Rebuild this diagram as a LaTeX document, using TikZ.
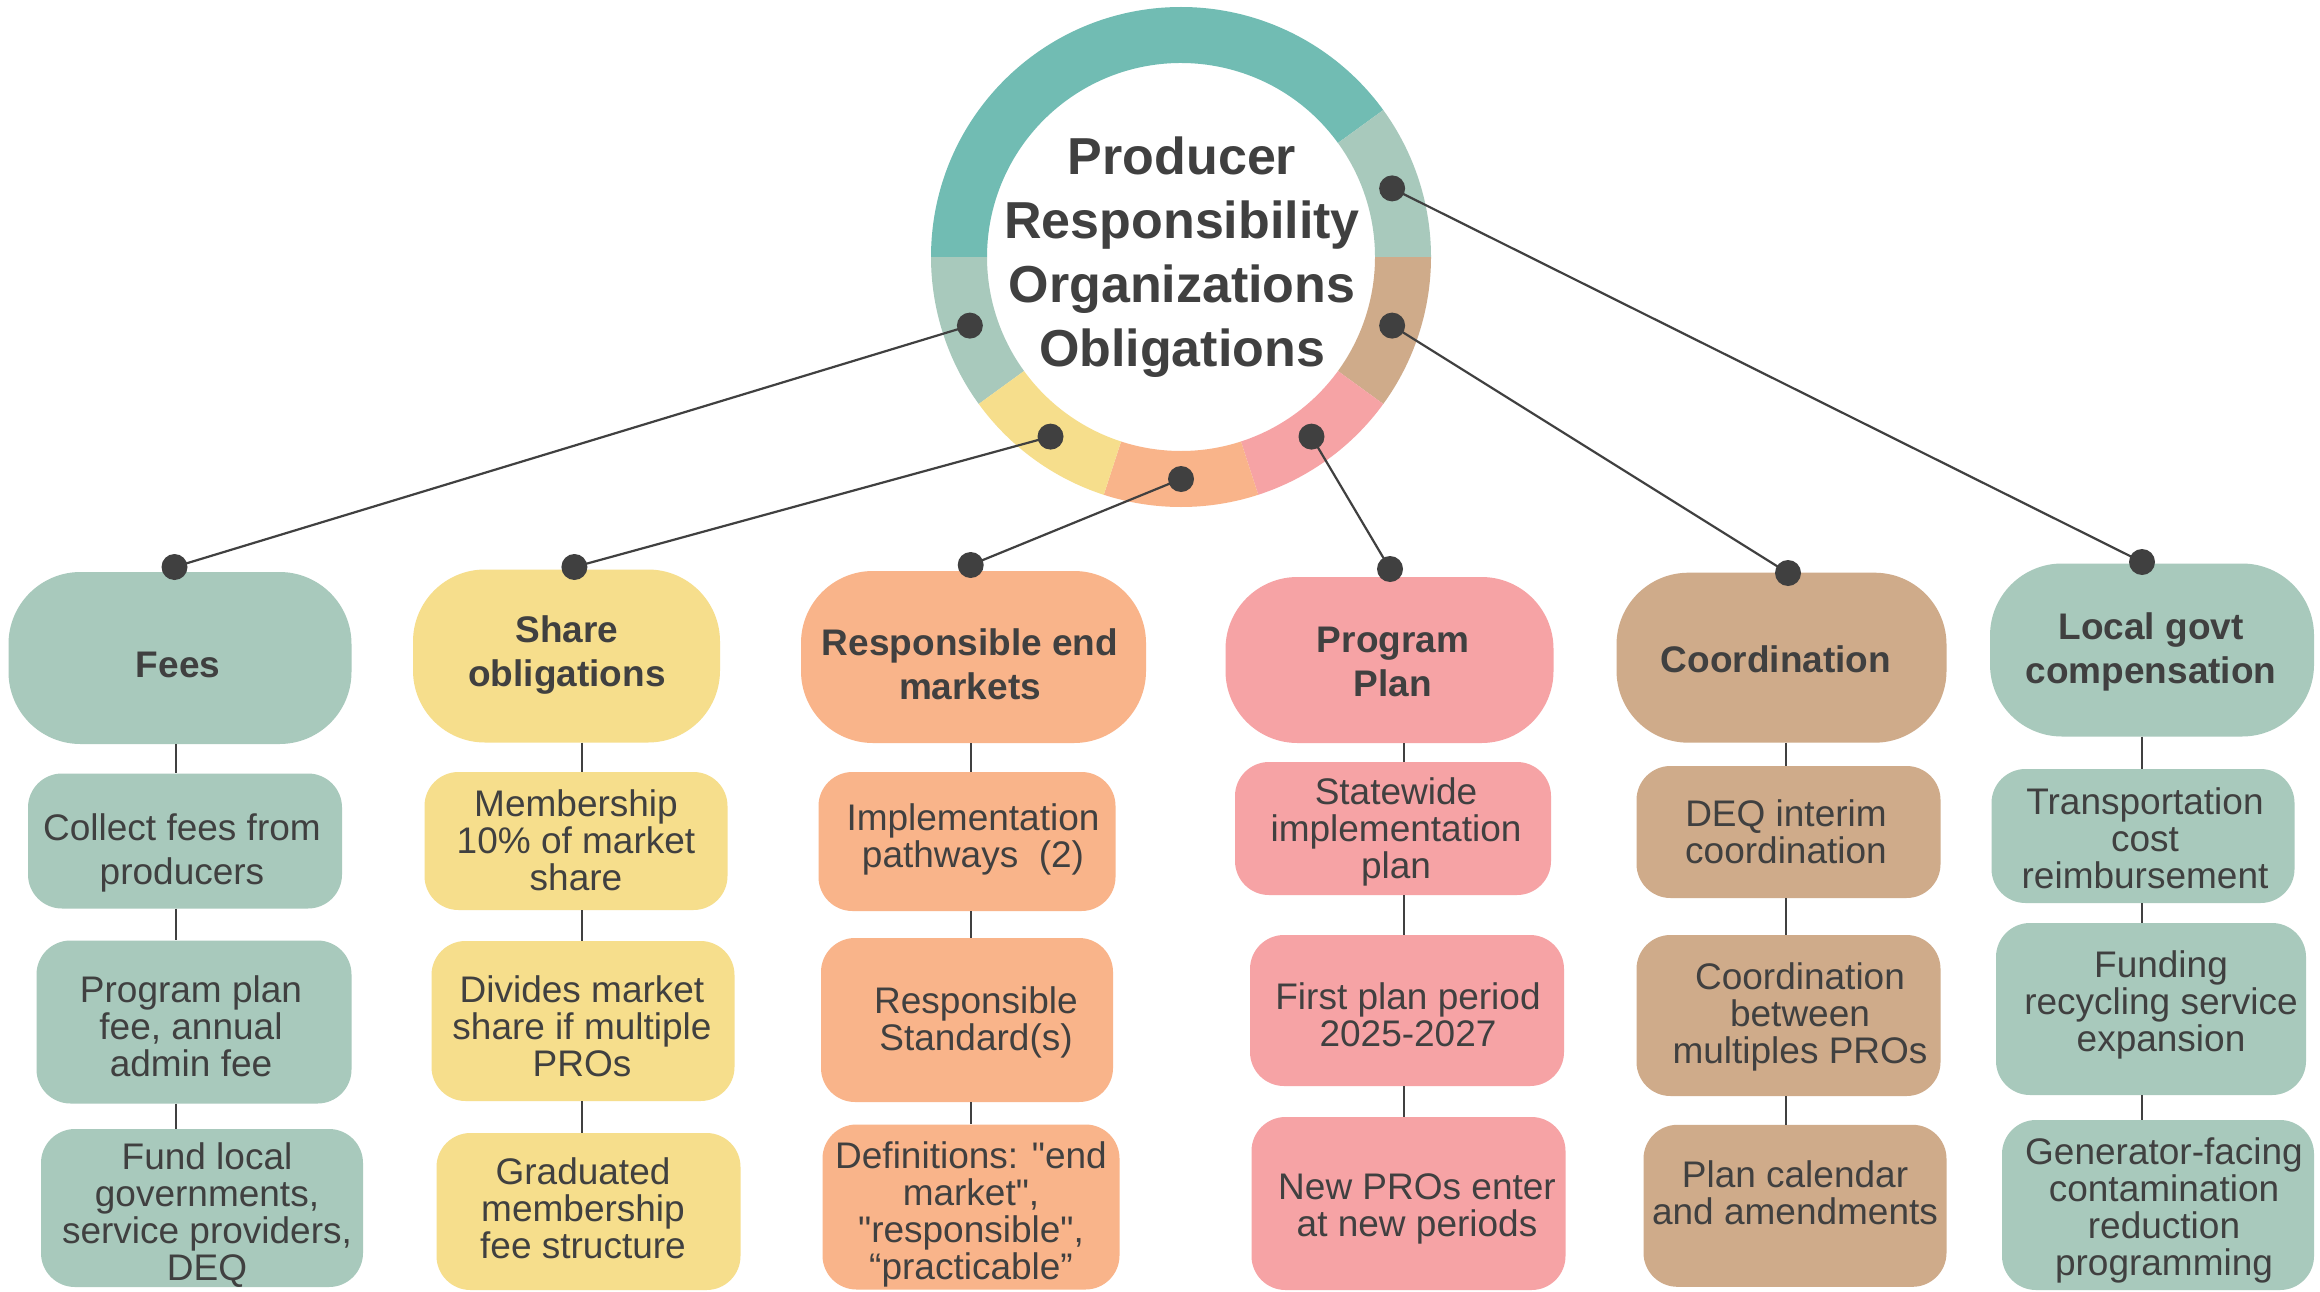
\documentclass[tikz,border=0pt]{standalone}
\usepackage{fontspec}
\setmainfont{Liberation Sans}[Ligatures=TeXOff]
\usetikzlibrary{calc}
\definecolor{cTeal}{HTML}{71BCB3}
\definecolor{cSage}{HTML}{A8C9BC}
\definecolor{cTan}{HTML}{CFAB8A}
\definecolor{cPink}{HTML}{F6A3A5}
\definecolor{cPeach}{HTML}{F9B48A}
\definecolor{cYellow}{HTML}{F6DE8C}
\definecolor{cText}{HTML}{404040}
\definecolor{cDot}{HTML}{404040}
\begin{document}
\begin{tikzpicture}[x=1pt,y=-1pt,
  catbox/.style={rectangle, rounded corners=72pt, fill=#1, inner sep=0pt},
  subbox/.style={rectangle, rounded corners=34pt, fill=#1, inner sep=0pt},
  cattext/.style={font=\bfseries\fontsize{37}{44}\selectfont, text=cText, align=center, inner sep=0pt},
  subtext/.style={font=\fontsize{37}{37}\selectfont, text=cText, align=center, inner sep=0pt},
  dotnode/.style={circle, fill=cDot, inner sep=0pt, minimum size=26pt},
  link/.style={draw=cDot, line width=2.2pt},
  stem/.style={draw=cDot, line width=2pt}]
\useasboundingbox[fill=white] (0,0) rectangle (2320,1292);

% ring
\coordinate (ctr) at (1181,257);
\foreach \a/\b/\c in {-180/-36/cTeal,-36/0/cSage,144/180/cSage,0/36/cTan,36/72/cPink,72/108/cPeach,108/144/cYellow}
  \fill[\c] ($(ctr)+(\a:250)$) arc[start angle=\a,end angle=\b,radius=250] -- ($(ctr)+(\b:194)$) arc[start angle=\b,end angle=\a,radius=194] -- cycle;

% column 1
\node[catbox=cSage, minimum width=343pt, minimum height=172pt] (fees) at (180,658) {};
\node[cattext] (feesT) at (178,665) {Fees};
\node[subbox=cSage, minimum width=314pt, minimum height=135pt] (f1) at (185,841) {};
\node[subtext, font=\fontsize{37}{44}\selectfont] (f1T) at (182,853) {Collect fees from\\producers};
\node[subbox=cSage, minimum width=315pt, minimum height=163pt] (f2) at (194,1022) {};
\node[subtext] (f2T) at (191,1026) {Program plan\\fee, annual\\admin fee};
\node[subbox=cSage, minimum width=322pt, minimum height=158pt] (f3) at (202,1208) {};
\node[subtext] (f3T) at (207,1215) {Fund local\\governments,\\service providers,\\DEQ};

% column 2
\node[catbox=cYellow, minimum width=307pt, minimum height=173pt] (share) at (566.5,656) {};
\node[cattext] (shareT) at (567,655) {Share\\obligations};
\node[subbox=cYellow, minimum width=303pt, minimum height=138pt] (s1) at (576,841) {};
\node[subtext] (s1T) at (576,840) {Membership\\10\% of market\\share};
\node[subbox=cYellow, minimum width=303pt, minimum height=160pt] (s2) at (583,1021) {};
\node[subtext] (s2T) at (582,1026) {Divides market\\share if multiple\\PROs};
\node[subbox=cYellow, minimum width=304pt, minimum height=157pt] (s3) at (588.5,1211.5) {};
\node[subtext] (s3T) at (583,1208) {Graduated\\membership\\fee structure};

% column 3
\node[catbox=cPeach, minimum width=345pt, minimum height=172pt] (rem) at (973.5,657) {};
\node[cattext] (remT) at (970,664) {Responsible end\\markets};
\node[subbox=cPeach, minimum width=297pt, minimum height=139pt] (m1) at (967,841.5) {};
\node[subtext] (m1T) at (973,839) {Implementation\\pathways\ \ (2)};
\node[subbox=cPeach, minimum width=292pt, minimum height=164pt] (m2) at (967,1020) {};
\node[subtext] (m2T) at (976,1022) {Responsible\\Standard(s)};
\node[subbox=cPeach, minimum width=297pt, minimum height=165pt] (m3) at (971,1207) {};
\node[subtext] (m3T) at (971,1214) {Definitions: "end\\market",\\"responsible",\\“practicable”};

% column 4
\node[catbox=cPink, minimum width=328pt, minimum height=166pt] (plan) at (1389.5,660) {};
\node[cattext] (planT) at (1393,662) {Program\\Plan};
\node[subbox=cPink, minimum width=316pt, minimum height=133pt] (p1) at (1393,828.5) {};
\node[subtext] (p1T) at (1396,832) {Statewide\\implementation\\plan};
\node[subbox=cPink, minimum width=314pt, minimum height=151pt] (p2) at (1407,1010.5) {};
\node[subtext] (p2T) at (1408,1015) {First plan period\\2025-2027};
\node[subbox=cPink, minimum width=314pt, minimum height=173pt] (p3) at (1408.5,1203.5) {};
\node[subtext] (p3T) at (1417,1209) {New PROs enter\\at new periods};

% column 5
\node[catbox=cTan, minimum width=330pt, minimum height=170pt] (coord) at (1781.5,657.7) {};
\node[cattext] (coordT) at (1776,659) {Coordination};
\node[subbox=cTan, minimum width=304pt, minimum height=132pt] (c1) at (1788.5,832) {};
\node[subtext] (c1T) at (1786,832) {DEQ interim\\coordination};
\node[subbox=cTan, minimum width=304pt, minimum height=161pt] (c2) at (1788.5,1015.5) {};
\node[subtext] (c2T) at (1800,1017) {Coordination\\between\\multiples PROs};
\node[subbox=cTan, minimum width=303pt, minimum height=162pt] (c3) at (1795,1205.8) {};
\node[subtext] (c3T) at (1795,1193) {Plan calendar\\and amendments};

% column 6
\node[catbox=cSage, minimum width=324pt, minimum height=173pt] (local) at (2152,650) {};
\node[cattext] (localT) at (2151,652) {Local govt\\compensation};
\node[subbox=cSage, minimum width=303pt, minimum height=134pt] (l1) at (2143,836) {};
\node[subtext] (l1T) at (2145,838) {Transportation\\cost\\reimbursement};
\node[subbox=cSage, minimum width=310pt, minimum height=172pt] (l2) at (2151,1009) {};
\node[subtext] (l2T) at (2161,1005) {Funding\\recycling service\\expansion};
\node[subbox=cSage, minimum width=312pt, minimum height=170pt] (l3) at (2158,1205) {};
\node[subtext] (l3T) at (2164,1210) {Generator-facing\\contamination\\reduction\\programming};

% stems
\coordinate (x1) at (176,0);
\coordinate (x2) at (582,0);
\coordinate (x3) at (971,0);
\coordinate (x4) at (1404,0);
\coordinate (x5) at (1786,0);
\coordinate (x6) at (2142,0);
\foreach \t/\u/\v/\w/\k in {fees/f1/f2/f3/x1,share/s1/s2/s3/x2,rem/m1/m2/m3/x3,plan/p1/p2/p3/x4,coord/c1/c2/c3/x5,local/l1/l2/l3/x6}{
  \draw[stem] (\t.south -| \k) -- (\u.north -| \k);
  \draw[stem] (\u.south -| \k) -- (\v.north -| \k);
  \draw[stem] (\v.south -| \k) -- (\w.north -| \k);
}

% ring dots and category dots
\coordinate (r1) at ($(ctr)+(162:222)$);
\coordinate (r2) at ($(ctr)+(126:222)$);
\coordinate (r3) at ($(ctr)+(90:222)$);
\coordinate (r4) at ($(ctr)+(54:222)$);
\coordinate (r5) at ($(ctr)+(18:222)$);
\coordinate (r6) at ($(ctr)+(-18:222)$);
\coordinate (k1) at (174.5,567);
\coordinate (k2) at (574.4,567);
\coordinate (k3) at (970.7,565);
\coordinate (k4) at (1390,569);
\coordinate (k5) at (1788,573);
\coordinate (k6) at (2142,562);
\foreach \i in {1,...,6}{
  \draw[link] (r\i) -- (k\i);
}
\foreach \i in {1,...,6}{
  \node[dotnode] (rd\i) at (r\i) {};
  \node[dotnode] (kd\i) at (k\i) {};
}

% title
\node[font=\bfseries\fontsize{52}{64}\selectfont, text=cText, align=center, inner sep=0pt] (title) at (1182,257) {Producer\\Responsibility\\Organizations\\Obligations};
\end{tikzpicture}
\end{document}
